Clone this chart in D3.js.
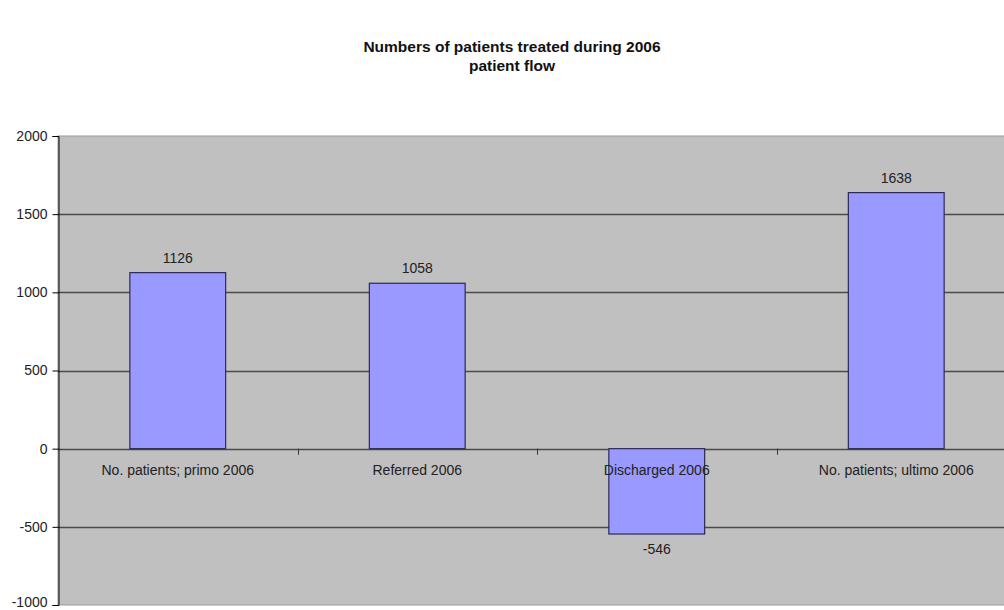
<!DOCTYPE html>
<html><head><meta charset="utf-8">
<script src="https://cdn.jsdelivr.net/npm/d3@7"></script>
<style>body{margin:0;background:#fff;} svg{display:block;font-family:"Liberation Sans",Arial,sans-serif;}</style>
</head><body>
<svg id="c" width="1004" height="610"></svg>
<script>
const categories = ["No. patients; primo 2006","Referred 2006","Discharged 2006","No. patients; ultimo 2006"];
const values = [1126, 1058, -546, 1638];
const yTicks = [-1000,-500,0,500,1000,1500,2000];
const title = "Numbers of patients treated during 2006";
const subtitle = "patient flow";

const svg = d3.select("#c");
const L = 58, T = 136, B = 605, R = 1016;
const FS = 14;
const x = d3.scaleBand().domain(categories).range([L, R]).paddingInner(0.6).paddingOuter(0.3);
const xc = d3.scaleBand().domain(categories).range([L, R]);
const y = d3.scaleLinear().domain([-1000, 2000]).range([B, T]);

svg.append("text").attr("x",512).attr("y",52).attr("text-anchor","middle").attr("font-weight","bold").attr("font-size",15.5).attr("fill","#111").text(title);
svg.append("text").attr("x",512).attr("y",71).attr("text-anchor","middle").attr("font-weight","bold").attr("font-size",15.5).attr("fill","#111").text(subtitle);

svg.append("rect").attr("x",L).attr("y",T).attr("width",R-L).attr("height",B-T).attr("fill","#c0c0c0").attr("stroke","#9a9a9a").attr("stroke-width",1);

// gridlines
svg.append("g").selectAll("line").data(yTicks.filter(d=>d!==2000 && d!==-1000)).join("line")
  .attr("x1",L).attr("x2",R).attr("y1",d=>Math.round(y(d))+0.5).attr("y2",d=>Math.round(y(d))+0.5)
  .attr("stroke","#4a4a4a").attr("stroke-width",1.3);

// bars
svg.append("g").selectAll("rect").data(values).join("rect")
  .attr("x",(d,i)=>x(categories[i]))
  .attr("width",x.bandwidth())
  .attr("y",d=>y(Math.max(0,d)))
  .attr("height",d=>Math.abs(y(d)-y(0)))
  .attr("fill","#9999ff").attr("stroke","#2a2a55").attr("stroke-width",1.2);

// y axis
const ya = d3.axisLeft(y).tickValues(yTicks).tickSize(6).tickPadding(5).tickFormat(d=>String(d));
const yg = svg.append("g").attr("transform",`translate(${L+0.5},0)`).call(ya);
yg.select(".domain").attr("stroke","#000");
yg.selectAll(".tick line").attr("stroke","#000");
yg.selectAll("text").attr("font-size",FS).attr("fill","#222").attr("font-family","Liberation Sans, Arial, sans-serif")
  .attr("dy", d => d === -1000 ? "0.1em" : "0.32em");

// x axis at zero
const xa = d3.axisBottom(xc).tickSize(0).tickPadding(16);
const xg = svg.append("g").attr("transform",`translate(0,${Math.round(y(0))+0.5})`).call(xa);
xg.select(".domain").remove();
xg.selectAll("text").attr("font-size",FS).attr("fill","#222").attr("font-family","Liberation Sans, Arial, sans-serif");
// category boundary ticks
svg.append("g").selectAll("line").data(categories.slice(1)).join("line")
  .attr("x1",d=>Math.round(xc(d))+0.5).attr("x2",d=>Math.round(xc(d))+0.5)
  .attr("y1",y(0)).attr("y2",y(0)+6).attr("stroke","#333");

// value labels
svg.append("g").selectAll("text").data(values).join("text")
  .attr("x",(d,i)=>x(categories[i])+x.bandwidth()/2)
  .attr("y",d=> d>=0 ? y(d)-10 : y(d)+20)
  .attr("text-anchor","middle").attr("font-size",FS).attr("fill","#222")
  .text(d=>d);
</script>
</body></html>
